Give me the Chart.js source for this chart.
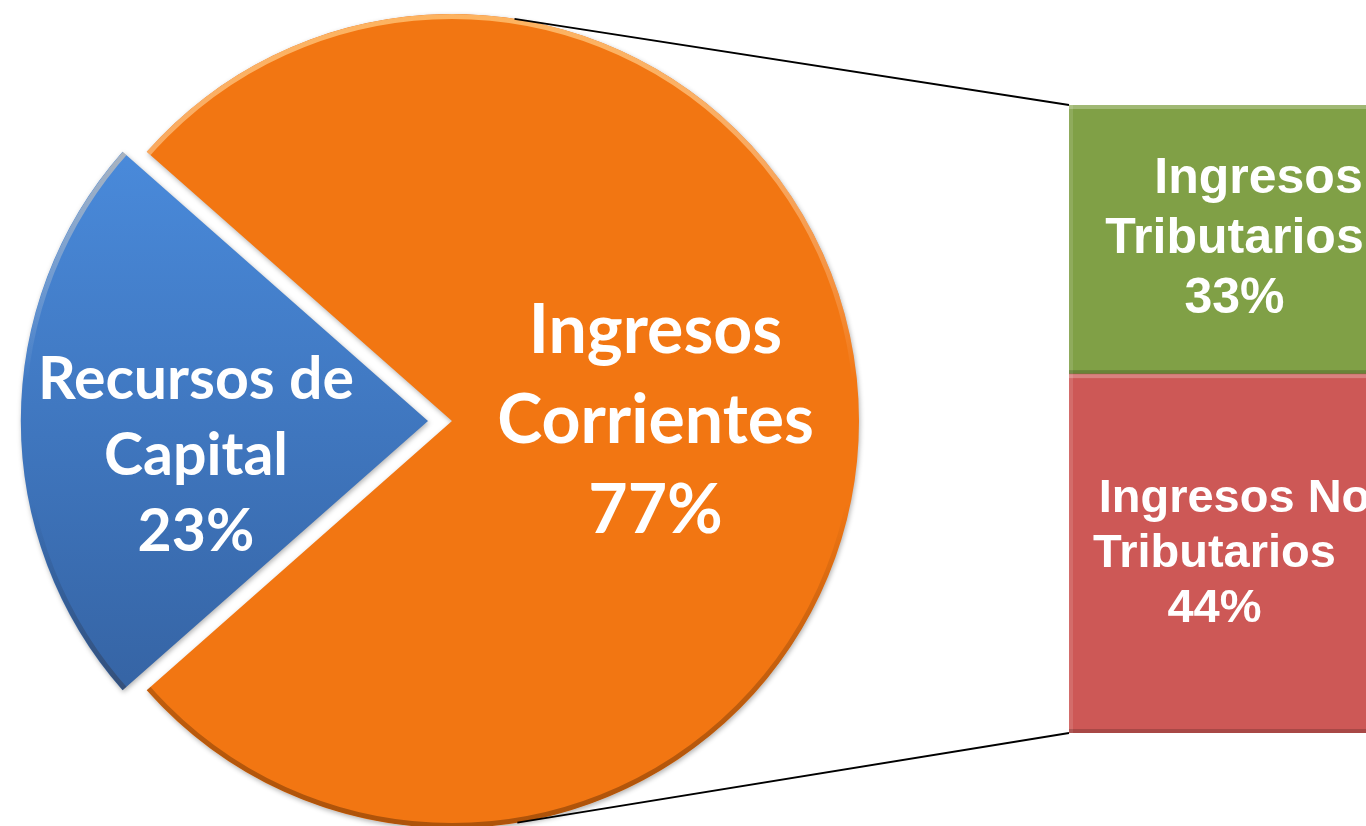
<!DOCTYPE html>
<html>
<head>
<meta charset="utf-8">
<script src="https://cdn.jsdelivr.net/npm/chart.js@4"></script>
<style>
  html, body { margin: 0; padding: 0; background: #fff; overflow: hidden; }
  #pieWrap { position: absolute; left: 0; top: 0; width: 1366px; height: 826px; }
  #barWrap { position: absolute; left: 1040px; top: 0; width: 400px; height: 826px; }
</style>
</head>
<body>
<div id="pieWrap"><canvas id="pieChart"></canvas></div>
<div id="barWrap"><canvas id="barChart"></canvas></div>
<script>
// pie: capital vs current income
const pieLabels = ["Recursos de Capital", "Ingresos Corrientes"];
const pieLines = [["Recursos de", "Capital"], ["Ingresos", "Corrientes"]];
const pieValues = [23, 77];

// bar: breakdown of Ingresos Corrientes (bottom to top)
const barLabels = ["Ingresos No Tributarios", "Ingresos Tributarios"];
const barLines = [["Ingresos No", "Tributarios"], ["Ingresos", "Tributarios"]];
const barValues = [44, 33];

const pieTotal = pieValues.reduce((a, b) => a + b, 0);
const barTotal = barValues.reduce((a, b) => a + b, 0);

// label styles (not data)
const pieLabelStyle = [
  { frac: 0.57, dy: 35, size: 59, lineH: 76 },
  { frac: 0.5, dy: 0, size: 68, lineH: 90 }
];
const barLabelStyle = [
  { size: 47, lineH: 55, nudge: [0, -20, -20] },
  { size: 50, lineH: 60, nudge: [24, 0, 0] }
];

// bevel-ish edges on the bar segments
const barBevel = {
  id: "barBevel",
  afterDatasetsDraw(chart) {
    const ctx = chart.ctx;
    chart.data.datasets.forEach((ds, i) => {
      chart.getDatasetMeta(i).data.forEach(bar => {
        const left = bar.x - bar.width / 2;
        const right = bar.x + bar.width / 2;
        const top = Math.min(bar.y, bar.base);
        const bottom = Math.max(bar.y, bar.base);
        ctx.save();
        ctx.fillStyle = "rgba(255,255,255,0.25)";
        ctx.fillRect(left, top, right - left, 4);
        ctx.fillStyle = "rgba(255,255,255,0.12)";
        ctx.fillRect(left, top, 4, bottom - top);
        ctx.fillStyle = "rgba(0,0,0,0.18)";
        ctx.fillRect(left, bottom - 4, right - left, 4);
        ctx.restore();
      });
    });
  }
};

const barText = {
  id: "barText",
  afterDraw(chart) {
    const ctx = chart.ctx;
    chart.data.datasets.forEach((ds, i) => {
      const st = barLabelStyle[i];
      chart.getDatasetMeta(i).data.forEach(bar => {
        const lines = barLines[i].concat([barValues[i] + "%"]);
        const cy = (bar.y + bar.base) / 2;
        ctx.save();
        ctx.font = "bold " + st.size + "px 'Liberation Sans', Arial, sans-serif";
        ctx.fillStyle = "#fff";
        ctx.textAlign = "center";
        ctx.textBaseline = "middle";
        lines.forEach((t, k) => {
          ctx.fillText(t, bar.x + st.nudge[k], cy + (k - (lines.length - 1) / 2) * st.lineH);
        });
        ctx.restore();
      });
    });
  }
};

const barChart = new Chart(document.getElementById("barChart"), {
  type: "bar",
  data: {
    labels: ["Ingresos Corrientes"],
    datasets: [
      { label: barLabels[0], data: [barValues[0]], backgroundColor: "#cd5856" },
      { label: barLabels[1], data: [barValues[1]], backgroundColor: "#80a046" }
    ]
  },
  options: {
    responsive: true,
    maintainAspectRatio: false,
    animation: false,
    layout: { padding: { left: 29, right: 40, top: 105, bottom: 93 } },
    datasets: { bar: { barPercentage: 1, categoryPercentage: 1 } },
    plugins: { legend: { display: false }, tooltip: { enabled: false } },
    scales: {
      x: { stacked: true, display: false },
      y: { stacked: true, display: false, min: 0, max: barTotal }
    }
  },
  plugins: [barBevel, barText]
});

// soft shadow under the pie slices
const pieShadow = {
  id: "pieShadow",
  beforeDatasetsDraw(chart) {
    const ctx = chart.ctx;
    ctx.save();
    ctx.shadowColor = "rgba(0,0,0,0.3)";
    ctx.shadowBlur = 5;
    ctx.shadowOffsetX = 1;
    ctx.shadowOffsetY = 2;
  },
  afterDatasetsDraw(chart) {
    chart.ctx.restore();
  }
};

// rim highlight on the slices
const pieRim = {
  id: "pieRim",
  afterDatasetsDraw(chart) {
    const ctx = chart.ctx;
    chart.getDatasetMeta(0).data.forEach((arc, i) => {
      const off = (arc.options.offset || 0) / 4;
      const mid = (arc.startAngle + arc.endAngle) / 2;
      const cx = arc.x + Math.cos(mid) * off;
      const cy = arc.y + Math.sin(mid) * off;
      const r = arc.outerRadius;
      ctx.save();
      ctx.beginPath();
      ctx.moveTo(cx, cy);
      ctx.arc(cx, cy, r, arc.startAngle, arc.endAngle);
      ctx.closePath();
      ctx.clip();
      const g = ctx.createLinearGradient(0, cy - r, 0, cy + r);
      g.addColorStop(0, "rgba(255,190,110,0.85)");
      g.addColorStop(0.45, "rgba(255,255,255,0.0)");
      g.addColorStop(0.6, "rgba(0,0,0,0.0)");
      g.addColorStop(1, "rgba(90,40,0,0.45)");
      ctx.strokeStyle = g;
      ctx.lineWidth = 5;
      ctx.beginPath();
      ctx.arc(cx, cy, r - 2.5, 0, Math.PI * 2);
      ctx.stroke();
      ctx.restore();
    });
  }
};

const pieText = {
  id: "pieText",
  afterDraw(chart) {
    const ctx = chart.ctx;
    chart.getDatasetMeta(0).data.forEach((arc, i) => {
      const st = pieLabelStyle[i];
      const off = (arc.options.offset || 0) / 4;
      const mid = (arc.startAngle + arc.endAngle) / 2;
      const d = off + arc.outerRadius * st.frac;
      const x = arc.x + Math.cos(mid) * d;
      const y = arc.y + Math.sin(mid) * d + st.dy;
      const lines = pieLines[i].concat([pieValues[i] + "%"]);
      ctx.save();
      ctx.font = "bold " + st.size + "px Lato, 'Open Sans', sans-serif";
      ctx.fillStyle = "#fff";
      ctx.textAlign = "center";
      ctx.textBaseline = "middle";
      lines.forEach((t, k) => {
        ctx.fillText(t, x, y + (k - (lines.length - 1) / 2) * st.lineH);
      });
      ctx.restore();
    });
  }
};

// tangent lines from the bar corners to the pie
const connectors = {
  id: "connectors",
  afterDraw(chart) {
    const ctx = chart.ctx;
    const arc = chart.getDatasetMeta(0).data[1];
    const cx = arc.x, cy = arc.y, r = arc.outerRadius;
    const dx = barChart.canvas.parentNode.offsetLeft - chart.canvas.parentNode.offsetLeft;
    const dy = barChart.canvas.parentNode.offsetTop - chart.canvas.parentNode.offsetTop;
    const bottomBar = barChart.getDatasetMeta(0).data[0];
    const topBar = barChart.getDatasetMeta(barValues.length - 1).data[0];
    const corners = [
      { x: topBar.x - topBar.width / 2 + dx, y: topBar.y + dy, sign: -1 },
      { x: bottomBar.x - bottomBar.width / 2 + dx, y: bottomBar.base + dy, sign: 1 }
    ];
    ctx.save();
    ctx.strokeStyle = "#000";
    ctx.lineWidth = 1.8;
    corners.forEach(p => {
      const dist = Math.hypot(p.x - cx, p.y - cy);
      const th = Math.atan2(p.y - cy, p.x - cx);
      const a = th + p.sign * Math.acos(r / dist);
      ctx.beginPath();
      ctx.moveTo(cx + Math.cos(a) * r, cy + Math.sin(a) * r);
      ctx.lineTo(p.x, p.y);
      ctx.stroke();
    });
    ctx.restore();
  }
};

new Chart(document.getElementById("pieChart"), {
  type: "pie",
  data: {
    labels: pieLabels,
    datasets: [{
      data: pieValues,
      backgroundColor: (c) => {
        if (c.dataIndex === 1) return "#f27612";
        const area = c.chart.chartArea;
        if (!area) return "#4080d0";
        const g = c.chart.ctx.createLinearGradient(0, area.top + 120, 0, area.bottom - 120);
        g.addColorStop(0, "#4a8bdc");
        g.addColorStop(1, "#3563a3");
        return g;
      },
      borderWidth: 0,
      // arc offset is drawn at a quarter of this value
      offset: [96, 0],
      radius: 407,
      clip: false
    }]
  },
  options: {
    responsive: true,
    maintainAspectRatio: false,
    animation: false,
    rotation: 270 - (pieValues[0] / pieTotal) * 180,
    layout: { padding: { left: 0, right: 462, top: 16, bottom: 0 } },
    plugins: { legend: { display: false }, tooltip: { enabled: false } }
  },
  plugins: [pieShadow, pieRim, pieText, connectors]
});
</script>
</body>
</html>
